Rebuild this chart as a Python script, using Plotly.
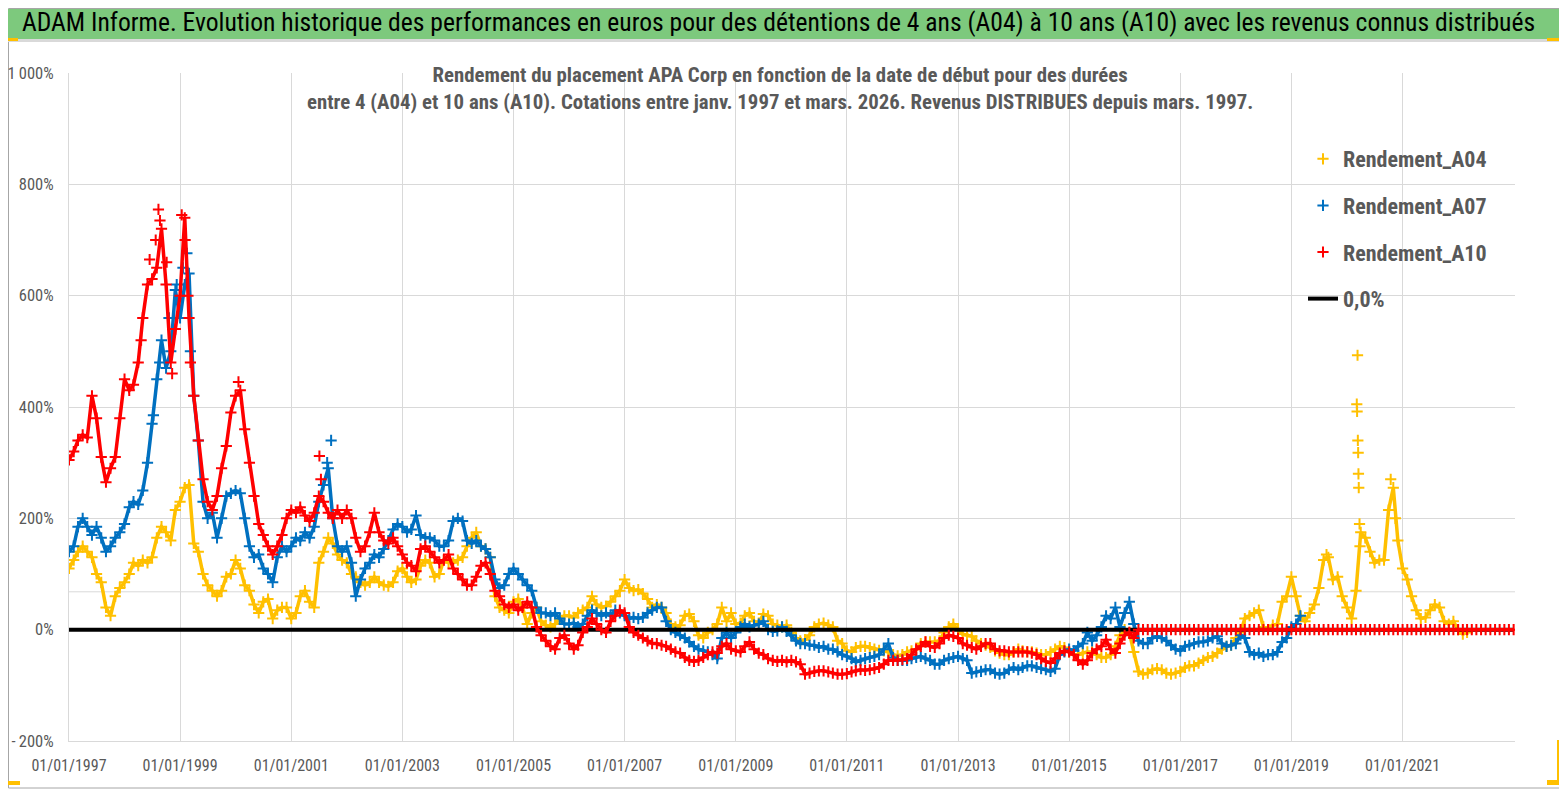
import plotly.graph_objects as go
import pandas as pd

# ---------------- data ----------------
# Monthly values (first day of each month) starting January 1997, in %
A04_REAL = [
    110, 125, 140, 150, 140, 130, 100, 85, 40, 25, 60, 75,          # 1997
    85, 100, 120, 115, 125, 120, 130, 165, 185, 175, 160, 215,      # 1998
    230, 255, 260, 155, 140, 100, 80, 70, 60, 70, 95, 100,          # 1999
    125, 110, 80, 70, 45, 30, 50, 55, 20, 35, 40, 40,               # 2000
    20, 30, 60, 70, 50, 40, 120, 140, 165, 155, 135, 125,           # 2001
    120, 100, 95, 85, 80, 85, 95, 85, 80, 78, 85, 105,              # 2002
    110, 95, 85, 90, 115, 125, 120, 95, 100, 125, 120, 120,         # 2003
    125, 130, 150, 165, 175, 150, 145, 130, 60, 40, 35, 30,         # 2004
    50, 55, 40, 10, 30, 40, 15, 8, 5, 10, 20, 25,                   # 2005
    25, 22, 30, 35, 40, 60, 45, 40, 42, 50, 60, 70,                 # 2006
    90, 75, 70, 72, 65, 55, 40, 45, 40, 30, 10, 5,                  # 2007
    8, 25, 28, 15, -10, -15, -5, 0, 10, 40, 15, 30,                 # 2008
    10, 12, 25, 30, 15, 12, 28, 25, 10, 8, 5, 8,                    # 2009
    -5, -15, -20, -18, -10, 5, 10, 12, 8, 5, -20, -25,              # 2010
    -38, -40, -32, -30, -30, -32, -35, -37, -38, -40, -45, -47,     # 2011
    -45, -40, -38, -35, -25, -22, -22, -22, -20, -5, 5, 10,         # 2012
    0, -8, -10, -12, -20, -25, -28, -32, -38, -42, -45, -45,        # 2013
    -40, -35, -38, -40, -40, -42, -45, -45, -40, -35, -30, -32,     # 2014
    -40, -45, -45, -42, -40, -40, -45, -50, -50, -45, -30, -10,     # 2015
    0, -5, -40, -75, -80, -78, -72, -70, -72, -78, -80, -78,        # 2016
    -75, -68, -65, -65, -60, -55, -50, -48, -42, -35, -30, -28,     # 2017
    -15, -5, 20, 25, 30, 35, 5, 0, 8, 10, 50, 60,                   # 2018
    95, 60, 25, 15, 30, 45, 75, 125, 130, 90, 95, 60,               # 2019
    40, 20, 70, 175, 165, 140, 120, 125, 125, 215, 255, 160,        # 2020
    110, 90, 60, 35, 20, 22, 35, 45, 40, 15, 10, 15,                # 2021
    0, -8, -5,                                                      # 2022
]
A04_EXTRA_DATES = ["2020-03-06", "2020-03-08", "2020-03-11", "2020-03-13", "2020-03-15",
                   "2020-03-17", "2020-03-19", "2020-03-24", "2020-03-27", "2020-10-15",
                   "2020-11-15", "2019-08-20"]
A04_EXTRA_VALUES = [405, 392, 493, 340, 318, 280, 255, 190, 150, 270, 200, 135]

A07_REAL = [
    140, 150, 185, 200, 185, 170, 185, 165, 140, 150, 165, 175,     # 1997
    190, 220, 230, 225, 250, 300, 370, 450, 520, 470, 500, 610,     # 1998
    560, 620, 640, 420, 340, 230, 200, 210, 165, 200, 240, 245,     # 1999
    250, 245, 200, 150, 130, 135, 110, 100, 85, 130, 150, 140,      # 2000
    150, 165, 160, 175, 165, 185, 230, 260, 290, 200, 150, 140,     # 2001
    150, 120, 60, 90, 110, 120, 135, 130, 145, 160, 180, 190,       # 2002
    185, 175, 180, 205, 170, 165, 165, 160, 150, 150, 160, 195,     # 2003
    200, 195, 160, 155, 160, 150, 145, 130, 90, 75, 80, 100,        # 2004
    110, 100, 90, 80, 70, 40, 30, 30, 25, 30, 20, 10,               # 2005
    10, 12, 5, 10, 25, 35, 30, 25, 30, 25, 35, 30,                  # 2006
    25, 20, 22, 20, 22, 30, 35, 40, 40, 15, 0, -5,                  # 2007
    -10, -15, -22, -30, -35, -38, -40, -45, -52, -15, -5, -15,      # 2008
    -5, 5, 10, 5, 8, 10, 15, 0, -3, -2, 5, -3,                      # 2009
    -10, -20, -25, -25, -28, -28, -32, -30, -35, -35, -40, -45,     # 2010
    -48, -52, -58, -55, -52, -50, -48, -45, -35, -25, -50, -55,     # 2011
    -55, -55, -52, -50, -48, -52, -55, -62, -62, -55, -52, -50,     # 2012
    -48, -52, -55, -78, -76, -75, -72, -72, -78, -80, -78, -72,     # 2013
    -68, -72, -68, -65, -65, -68, -70, -72, -75, -70, -45, -40,     # 2014
    -35, -38, -30, -25, -5, -20, -10, 5, 25, 20, 40, 5,             # 2015
    30, 50, 10, -20, -25, -25, -15, -12, -15, -20, -28, -35,        # 2016
    -38, -30, -28, -25, -22, -22, -20, -15, -12, -25, -30, -28,     # 2017
    -25, -10, -15, -40, -45, -42, -48, -45, -45, -40, -22, -15,     # 2018
    5, 10, 25,                                                      # 2019
]
A07_EXTRA_DATES = ["1998-07-10", "1998-08-20", "1998-10-20", "1998-12-10", "1999-01-20",
                   "1999-02-15", "1999-03-10", "2001-09-20", "2001-08-25"]
A07_EXTRA_VALUES = [385, 480, 560, 620, 650, 676, 500, 340, 300]

A10_REAL = [
    305, 320, 340, 350, 345, 420, 380, 310, 265, 290, 310, 380,     # 1997
    450, 430, 440, 480, 560, 620, 630, 650, 720, 620, 480, 540,     # 1998
    600, 740, 560, 420, 340, 270, 230, 215, 240, 290, 330, 390,     # 1999
    420, 430, 360, 300, 240, 190, 170, 150, 135, 150, 170, 200,     # 2000
    215, 210, 220, 205, 195, 210, 240, 230, 210, 200, 215, 200,     # 2001
    215, 200, 165, 140, 150, 175, 210, 175, 160, 155, 165, 150,     # 2002
    135, 120, 115, 105, 145, 150, 140, 130, 120, 125, 135, 110,     # 2003
    100, 90, 80, 80, 95, 115, 120, 100, 70, 60, 45, 40,             # 2004
    45, 35, 40, 50, 40, 5, -10, -20, -30, -35, -15, -10,            # 2005
    -25, -35, -28, -5, 5, 20, 10, 0, -5, 15, 25, 35,                # 2006
    30, 5, -5, -10, -15, -20, -25, -25, -28, -30, -35, -40,         # 2007
    -42, -50, -55, -57, -55, -50, -45, -40, -42, -30, -25, -35,     # 2008
    -38, -40, -30, -22, -35, -42, -45, -52, -55, -57, -55, -58,     # 2009
    -55, -58, -62, -80, -78, -75, -74, -74, -76, -78, -80, -80,     # 2010
    -79, -76, -74, -72, -73, -72, -70, -68, -62, -55, -55, -55,     # 2011
    -54, -52, -45, -35, -30, -22, -30, -32, -25, -15, -10, -12,     # 2012
    -15, -25, -28, -32, -35, -30, -25, -25, -35, -38, -38, -40,     # 2013
    -40, -40, -40, -40, -42, -45, -52, -57, -60, -52, -42, -38,     # 2014
    -40, -45, -55, -62, -55, -42, -35, -30, -18, -35, -42, -25,     # 2015
    -10, -5, -15,                                                   # 2016
]
# after April 2016 the 10-year series is shown at 0 until January 2023
A10_ZERO_TAIL = [
    0, 0, 0, 0, 0, 0, 0, 0, 0,                                      # 2016 (Apr-Dec)
    0, 0, 0, 0, 0, 0, 0, 0, 0, 0, 0, 0,                             # 2017
    0, 0, 0, 0, 0, 0, 0, 0, 0, 0, 0, 0,                             # 2018
    0, 0, 0, 0, 0, 0, 0, 0, 0, 0, 0, 0,                             # 2019
    0, 0, 0, 0, 0, 0, 0, 0, 0, 0, 0, 0,                             # 2020
    0, 0, 0, 0, 0, 0, 0, 0, 0, 0, 0, 0,                             # 2021
    0, 0, 0, 0, 0, 0, 0, 0, 0, 0, 0, 0,                             # 2022
    0,                                                              # 2023
]
A10_EXTRA_DATES = ["1998-04-20", "1998-06-15", "1998-07-25", "1998-08-12", "1998-08-22",
                   "1998-10-05", "1998-11-10", "1999-01-12", "1999-02-03", "1999-02-22",
                   "1999-03-10", "2001-07-05", "2001-07-15", "2000-01-20"]
A10_EXTRA_VALUES = [520, 665, 700, 755, 735, 660, 460, 745, 700, 600, 480, 312, 270, 445]

ZERO_X = ["1997-01-01", "2023-01-01"]
ZERO_Y = [0, 0]

X_TICKS = ["1997-01-01", "1999-01-01", "2001-01-01", "2003-01-01", "2005-01-01",
           "2007-01-01", "2009-01-01", "2011-01-01", "2013-01-01", "2015-01-01",
           "2017-01-01", "2019-01-01", "2021-01-01"]
X_TICK_TEXT = ["01/01/1997", "01/01/1999", "01/01/2001", "01/01/2003", "01/01/2005",
               "01/01/2007", "01/01/2009", "01/01/2011", "01/01/2013", "01/01/2015",
               "01/01/2017", "01/01/2019", "01/01/2021"]
Y_TICKS = [-200, 0, 200, 400, 600, 800, 1000]
Y_TICK_TEXT = ["-\u2009200%", "0%", "200%", "400%", "600%", "800%", "1\u2009000%"]
EXTRA_GRID_Y = 68

TITLE = ("ADAM Informe. Evolution historique des performances en euros pour des "
         "détentions de 4 ans (A04) à 10 ans (A10) avec les revenus connus distribués")
SUBTITLE = ("Rendement du placement APA Corp en fonction de la date de début pour des durées<br>"
            "entre 4 (A04) et 10 ans (A10). Cotations entre janv. 1997 et mars. 2026. "
            "Revenus DISTRIBUES depuis mars. 1997.")

# ---------------- layout helpers ----------------
OFF = 8                      # page body margin of the html page
W, H = 1567 - OFF, 790 - OFF
L, R, T, B = 69, 1515, 73, 741   # plot area in page pixels
FONT = "Liberation Sans Narrow, Arial Narrow, Roboto Condensed, sans-serif"
GREY = "#595959"


def px(x):
    return (x - L) / (R - L)


def py(y):
    return (B - y) / (B - T)


months = pd.date_range("1997-01-01", periods=313, freq="MS").strftime("%Y-%m-%d").tolist()


def marker(color):
    return dict(symbol="cross-thin", size=8, color=color, line=dict(width=2, color=color))


fig = go.Figure()


def add_series(name, values, extra_dates, extra_values, color, rank, group):
    xs = months[:len(values)]
    # band joining the monthly readings (visual density of the daily cloud)
    fig.add_trace(go.Scatter(x=xs, y=values, mode="lines", showlegend=False,
                             line=dict(color=color, width=3.5), hoverinfo="skip",
                             legendgroup=group))
    fig.add_trace(go.Scatter(x=xs + extra_dates, y=values + extra_values, mode="markers",
                             name=name, marker=marker(color), legendrank=rank,
                             legendgroup=group))


add_series("Rendement_A04", A04_REAL, A04_EXTRA_DATES, A04_EXTRA_VALUES, "#FFC000", 1, "a04")
add_series("Rendement_A07", A07_REAL, A07_EXTRA_DATES, A07_EXTRA_VALUES, "#0070C0", 2, "a07")
fig.add_trace(go.Scatter(
    x=ZERO_X, y=ZERO_Y, mode="lines", name="0,0%",
    line=dict(color="black", width=4), legendrank=4, legendgroup="zero"))
add_series("Rendement_A10", A10_REAL + A10_ZERO_TAIL, A10_EXTRA_DATES, A10_EXTRA_VALUES,
           "#FF0000", 3, "a10")

Y = "#FFC000"
shapes = [
    # outer frame
    dict(type="rect", xref="paper", yref="paper", x0=px(8.5), x1=px(1563.5), y0=py(8.5), y1=py(788),
         line=dict(color="#A6A6A6", width=1), fillcolor="rgba(0,0,0,0)", layer="below"),
    # green banner
    dict(type="rect", xref="paper", yref="paper", x0=px(8), x1=px(1563), y0=py(9), y1=py(39),
         line=dict(width=0), fillcolor="#7DC97D", layer="below"),
    dict(type="rect", xref="paper", yref="paper", x0=px(8), x1=px(1563), y0=py(39), y1=py(42),
         line=dict(width=0), fillcolor="#D9D9D9", layer="below"),
    # extra horizontal gridline
    dict(type="line", xref="paper", yref="y", x0=0, x1=1, y0=EXTRA_GRID_Y, y1=EXTRA_GRID_Y,
         line=dict(color="#D9D9D9", width=1), layer="below"),
    # white boxes behind subtitle and legend
    dict(type="rect", xref="paper", yref="paper", x0=px(308), x1=px(1256), y0=py(120), y1=py(62),
         line=dict(width=0), fillcolor="white", layer="between"),
    dict(type="rect", xref="paper", yref="paper", x0=px(1287), x1=1, y0=py(320), y1=py(136),
         line=dict(width=0), fillcolor="white", layer="between"),
    # yellow corner marks
    dict(type="rect", xref="paper", yref="paper", x0=px(8), x1=px(18), y0=py(41), y1=py(38),
         line=dict(width=0), fillcolor=Y, layer="above"),
    dict(type="rect", xref="paper", yref="paper", x0=px(1547), x1=px(1563), y0=py(41), y1=py(38),
         line=dict(width=0), fillcolor=Y, layer="above"),
    dict(type="rect", xref="paper", yref="paper", x0=px(1559), x1=px(1563), y0=py(50), y1=py(38),
         line=dict(width=0), fillcolor=Y, layer="above"),
    dict(type="rect", xref="paper", yref="paper", x0=px(1557), x1=px(1562), y0=py(785), y1=py(740),
         line=dict(width=0), fillcolor=Y, layer="above"),
    dict(type="rect", xref="paper", yref="paper", x0=px(1547), x1=px(1562), y0=py(785), y1=py(780),
         line=dict(width=0), fillcolor=Y, layer="above"),
    dict(type="rect", xref="paper", yref="paper", x0=px(8), x1=px(20), y0=py(785), y1=py(781),
         line=dict(width=0), fillcolor=Y, layer="above"),
]

annotations = [
    dict(text=TITLE, xref="paper", yref="paper", x=px(778), y=py(22), xanchor="center",
         yanchor="middle", showarrow=False, font=dict(family=FONT, size=25.6, color="black")),
    dict(text=SUBTITLE, xref="paper", yref="paper", x=px(780), y=py(89), xanchor="center",
         yanchor="middle", showarrow=False, align="center",
         font=dict(family=FONT, size=20.8, color=GREY, weight="bold")),
]

fig.update_layout(
    width=W, height=H,
    margin=dict(l=L - OFF, r=W - (R - OFF), t=T - OFF, b=H - (B - OFF), pad=0, autoexpand=False),
    paper_bgcolor="white", plot_bgcolor="white",
    font=dict(family=FONT, color=GREY),
    showlegend=True,
    legend=dict(x=px(1303), y=py(138), xanchor="left", yanchor="top",
                bgcolor="rgba(0,0,0,0)", traceorder="grouped", tracegroupgap=15,
                font=dict(family=FONT, size=22, color=GREY, weight="bold")),
    xaxis=dict(type="date", range=["1997-01-01", "2023-01-10"], automargin=False,
               tickmode="array", tickvals=X_TICKS, ticktext=X_TICK_TEXT,
               showgrid=True, gridcolor="#D9D9D9", gridwidth=1,
               showline=True, linecolor="#D9D9D9", ticks="", ticklabelstandoff=10,
               tickfont=dict(family=FONT, size=16, color=GREY), zeroline=False),
    yaxis=dict(range=[-200, 1000], tickmode="array", tickvals=Y_TICKS, ticktext=Y_TICK_TEXT,
               automargin=False,
               showgrid=True, gridcolor="#D9D9D9", gridwidth=1,
               showline=True, linecolor="#D9D9D9", ticks="", zeroline=False,
               ticklabelstandoff=11,
               tickfont=dict(family=FONT, size=16.5, color=GREY)),
    shapes=shapes,
    annotations=annotations,
)

fig.write_html("out.html")
